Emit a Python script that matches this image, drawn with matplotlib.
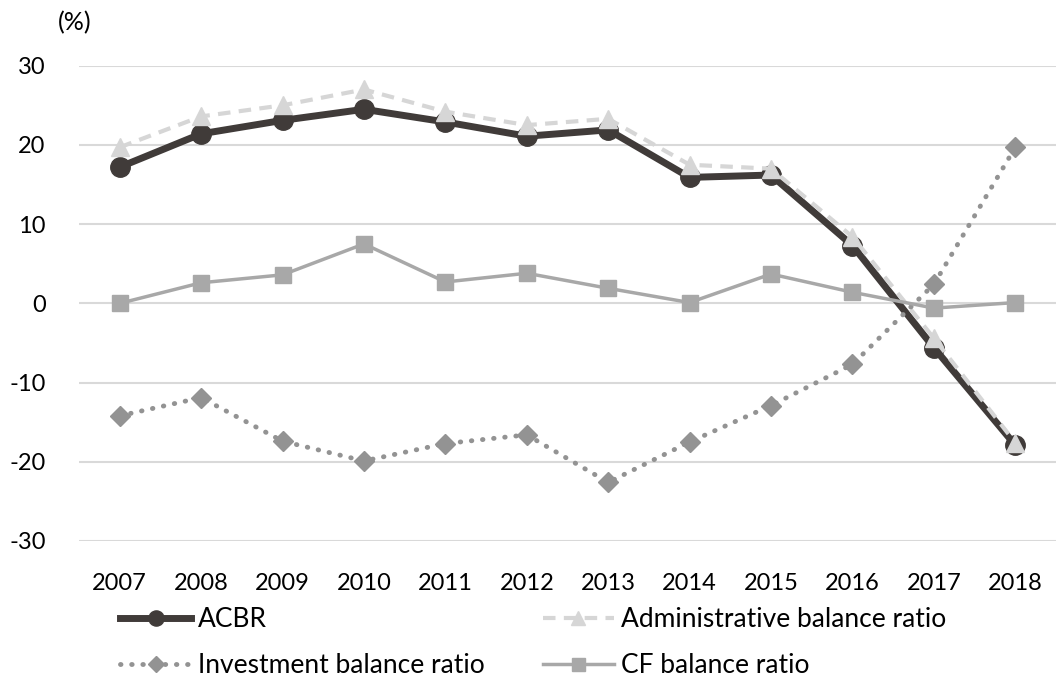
import numpy as np
import matplotlib
matplotlib.use("Agg")
import matplotlib.pyplot as plt

plt.rcParams['font.family'] = ['Lato', 'DejaVu Sans']

years = ['2007', '2008', '2009', '2010', '2011', '2012',
         '2013', '2014', '2015', '2016', '2017', '2018']

acbr = [17.2, 21.4, 23.1, 24.5, 22.9, 21.1, 21.9, 15.9, 16.2, 7.3, -5.6, -17.9]
admin_ratio = [19.7, 23.6, 25.0, 27.0, 24.2, 22.5, 23.3, 17.5, 17.0, 8.4, -4.4, -17.6]
invest_ratio = [-14.2, -11.9, -17.4, -19.9, -17.7, -16.6, -22.6, -17.5, -12.9, -7.7, 2.4, 19.7]
cf_ratio = [0.0, 2.6, 3.6, 7.5, 2.7, 3.8, 1.9, 0.1, 3.7, 1.4, -0.6, 0.1]

yticks = [-30, -20, -10, 0, 10, 20, 30]

fig = plt.figure(figsize=(10.56, 6.81), dpi=100)
ax = fig.add_axes([0.0748, 0.2056, 0.9252, 0.6979])

x = np.arange(len(years))

l1, = ax.plot(x, acbr, color='#403b39', linewidth=5, marker='o', markersize=14,
              label='ACBR', zorder=3)
l2, = ax.plot(x, admin_ratio, color='#d6d6d6', linewidth=3, linestyle=(0, (3, 2)),
              marker='^', markersize=13, label='Administrative balance ratio', zorder=4)
l3, = ax.plot(x, invest_ratio, color='#939393', linewidth=3.5, linestyle=(0, (0.1, 2.2)),
              dash_capstyle='round', marker='D', markersize=10,
              label='Investment balance ratio', zorder=5)
l4, = ax.plot(x, cf_ratio, color='#a8a8a8', linewidth=2.5, marker='s', markersize=12,
              label='CF balance ratio', zorder=6)

ax.set_xlim(-0.5, len(years) - 0.5)
ax.set_ylim(-30, 30)
ax.set_yticks(yticks)
ax.set_yticklabels([str(v) for v in yticks])
ax.set_xticks(x)
ax.set_xticklabels(years)
ax.tick_params(axis='both', length=0, labelsize=17, colors='black')
ax.tick_params(axis='y', pad=24)
ax.tick_params(axis='x', pad=23)
ax.yaxis.grid(True, color='#d9d9d9', linewidth=1.5)
ax.set_axisbelow(True)
for s in ax.spines.values():
    s.set_visible(False)

fig.text(0.055, 0.967, '(%)', fontsize=18, ha='left', va='center')

# two legend columns, placed separately
leg_kw = dict(loc='center left', frameon=False, fontsize=19, markerscale=0.78,
              handlelength=2.7, handletextpad=0.25, labelspacing=0.8,
              borderaxespad=0, borderpad=0)
fig.legend(handles=[l1, l3], bbox_to_anchor=(0.1136, 0.0565), **leg_kw)
fig.legend(handles=[l2, l4], bbox_to_anchor=(0.514, 0.0565), **leg_kw)

fig.savefig('out.png', dpi=100)
